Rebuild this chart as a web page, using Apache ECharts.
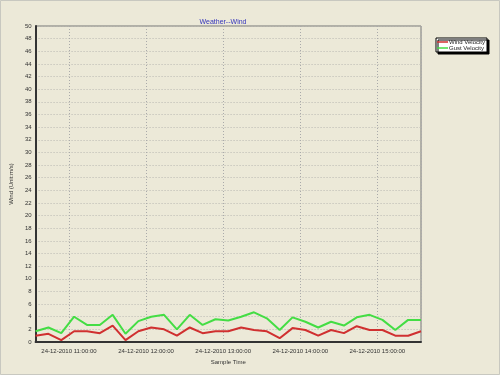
<!DOCTYPE html>
<html><head><meta charset="utf-8">
<script src="https://cdn.jsdelivr.net/npm/echarts@6/dist/echarts.min.js"></script>
<style>html,body{margin:0;padding:0;background:#ECE9D8;}#c{width:500px;height:375px;}</style>
</head><body><div id="c"></div>
<script>
var times = ['2010-12-24 10:34:00','2010-12-24 10:44:00','2010-12-24 10:54:00','2010-12-24 11:04:00','2010-12-24 11:14:00','2010-12-24 11:24:00',
'2010-12-24 11:34:00','2010-12-24 11:44:00','2010-12-24 11:54:00','2010-12-24 12:04:00','2010-12-24 12:14:00','2010-12-24 12:24:00',
'2010-12-24 12:34:00','2010-12-24 12:44:00','2010-12-24 12:54:00','2010-12-24 13:04:00','2010-12-24 13:14:00','2010-12-24 13:24:00',
'2010-12-24 13:34:00','2010-12-24 13:44:00','2010-12-24 13:54:00','2010-12-24 14:04:00','2010-12-24 14:14:00','2010-12-24 14:24:00',
'2010-12-24 14:34:00','2010-12-24 14:44:00','2010-12-24 14:54:00','2010-12-24 15:04:00','2010-12-24 15:14:00','2010-12-24 15:24:00','2010-12-24 15:34:00'];
var windVelocity = [1.0,1.3,0.3,1.7,1.7,1.4,2.6,0.3,1.7,2.3,2.0,1.0,2.3,1.4,1.7,1.7,2.3,1.9,1.7,0.6,2.2,1.9,1.0,1.9,1.4,2.5,1.9,1.9,1.0,1.0,1.7];
var gustVelocity = [1.7,2.3,1.4,4.0,2.7,2.7,4.3,1.3,3.3,4.0,4.3,2.0,4.3,2.7,3.6,3.4,4.0,4.7,3.75,1.9,3.9,3.2,2.3,3.2,2.6,3.9,4.3,3.5,1.9,3.5,3.5];
var yTicks = {min:0, max:50, interval:2};
var titleText = 'Weather--Wind';

function toTime(s){ var p=s.split(/[- :]/); return new Date(+p[0],+p[1]-1,+p[2],+p[3],+p[4],+p[5]).getTime(); }
var tx = times.map(toTime);
function pad(n){return (n<10?'0':'')+n;}

var chart = echarts.init(document.getElementById('c'));
chart.setOption({
  backgroundColor:'#ECE9D8',
  animation:false,
  title:{text:titleText, left:218, textAlign:'center', top:14, textStyle:{fontSize:7, fontWeight:'normal', color:'#3333bb', fontFamily:'Liberation Sans'}},
  legend:{orient:'vertical', left:436, top:38, icon:'rect', itemWidth:11, itemHeight:1.5, itemGap:0, padding:[1,2,1,1],
    backgroundColor:'#ffffff', borderColor:'#000', borderWidth:1, borderRadius:0,
    shadowColor:'rgba(0,0,0,1)', shadowOffsetX:2, shadowOffsetY:2, shadowBlur:0,
    textStyle:{fontSize:6, lineHeight:6, color:'#222', fontFamily:'Liberation Sans', padding:[0,0,0,-4]},
    data:['Wind Velocity','Gust Velocity']},
  graphic:[{type:'rect', shape:{x:0.5,y:0.5,width:499,height:374}, style:{fill:'none', stroke:'#c8c8c0', lineWidth:1}, silent:true}],
  grid:{left:33, right:79, top:26, bottom:33, show:true, borderColor:'#777', borderWidth:1, backgroundColor:'#ECE9D8'},
  xAxis:{type:'time', min:tx[0], max:tx[tx.length-1], minInterval:3600000, maxInterval:3600000,
    name:'Sample Time', nameLocation:'middle', nameGap:12, nameTextStyle:{fontSize:6, color:'#333', fontFamily:'Liberation Sans'},
    axisLine:{lineStyle:{color:'#333', width:2}}, axisTick:{show:false},
    axisLabel:{fontSize:6, color:'#333', margin:6, fontFamily:'Liberation Sans', showMinLabel:false, showMaxLabel:false,
      formatter:function(v){var d=new Date(v);return pad(d.getDate())+'-'+pad(d.getMonth()+1)+'-'+d.getFullYear()+' '+pad(d.getHours())+':'+pad(d.getMinutes())+':'+pad(d.getSeconds());}},
    splitLine:{show:true, lineStyle:{color:'#aaa', type:[1,2], width:1}}},
  yAxis:{type:'value', min:yTicks.min, max:yTicks.max, interval:yTicks.interval,
    name:'Wind (Unit:m/s)', nameLocation:'middle', nameGap:14, nameTextStyle:{fontSize:6, color:'#333', fontFamily:'Liberation Sans'},
    axisLine:{show:true, lineStyle:{color:'#333', width:2}}, axisTick:{show:false},
    axisLabel:{fontSize:6, color:'#333', margin:4, fontFamily:'Liberation Sans'},
    splitLine:{show:true, lineStyle:{color:'#b8b8b0', type:[1,2], width:1}}},
  series:[
    {name:'Wind Velocity', type:'line', data:tx.map(function(t,i){return [t, windVelocity[i]];}), symbol:'none', lineStyle:{color:'#d03030', width:2}, itemStyle:{color:'#d03030'}},
    {name:'Gust Velocity', type:'line', data:tx.map(function(t,i){return [t, gustVelocity[i]];}), symbol:'none', lineStyle:{color:'#44dd44', width:2}, itemStyle:{color:'#44dd44'}}
  ]
});
</script></body></html>
